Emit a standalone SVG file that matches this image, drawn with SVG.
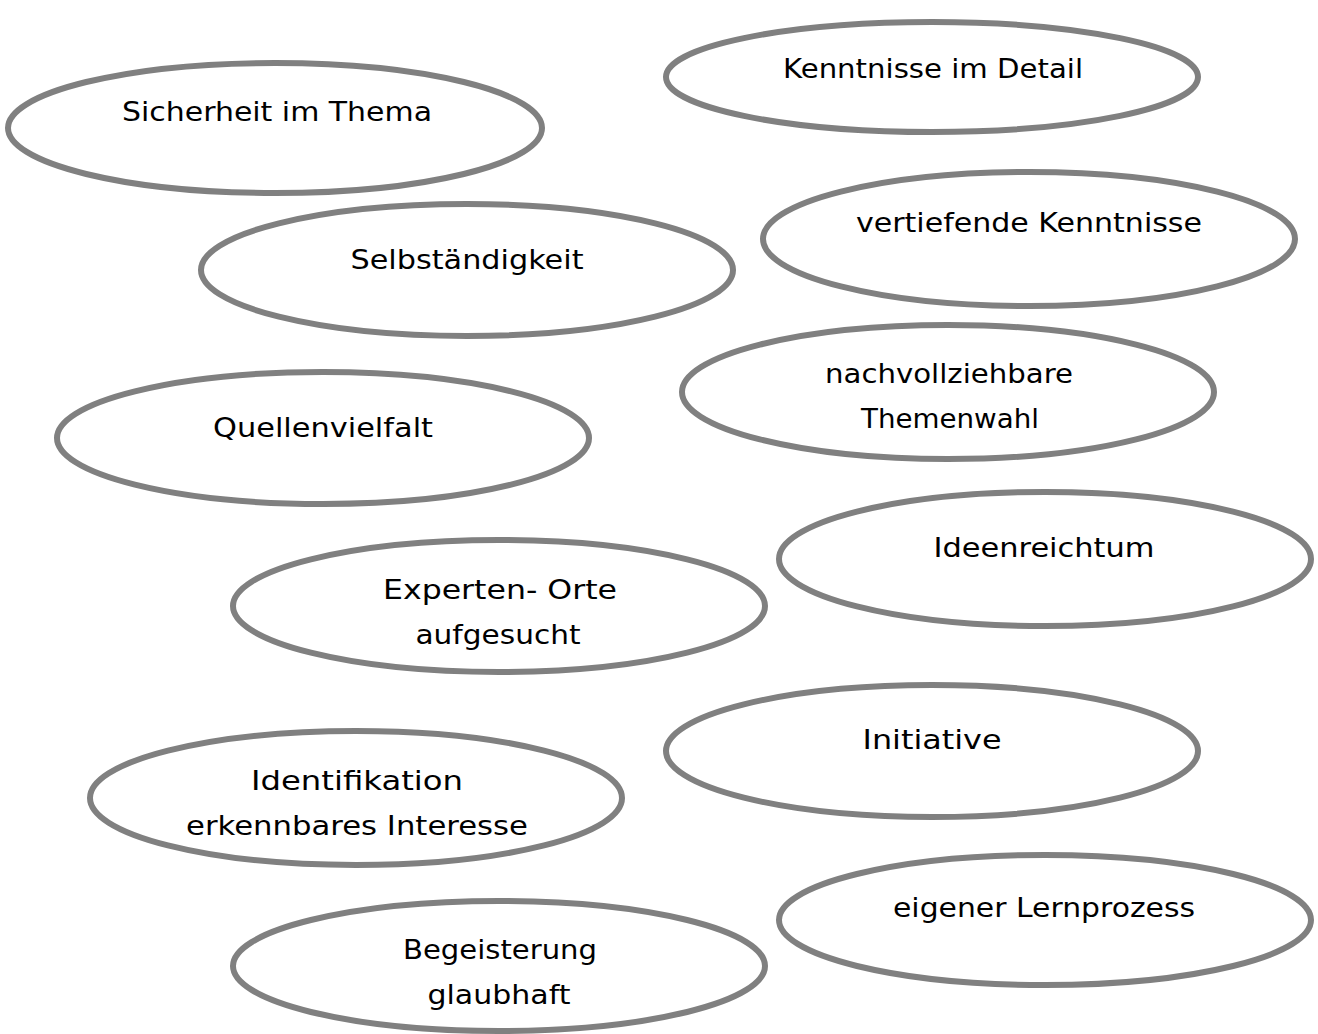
<svg xmlns="http://www.w3.org/2000/svg" width="1318" height="1034" viewBox="0 0 1318 1034">
<style>
.e{fill:#fff;stroke:#808080;stroke-width:6}
.t{font-family:"DejaVu Sans","Liberation Sans",sans-serif;font-size:26px;fill:#000;text-anchor:middle}
</style>
<rect width="1318" height="1034" fill="#fff"/>
<g id="connectors"/>
<g id="n1"><ellipse class="e" cx="275" cy="128" rx="267" ry="65"/><text class="t" x="277" y="121" textLength="310" lengthAdjust="spacingAndGlyphs">Sicherheit im Thema</text></g>
<g id="n2"><ellipse class="e" cx="932" cy="77" rx="266" ry="55"/><text class="t" x="933" y="78" textLength="300" lengthAdjust="spacingAndGlyphs">Kenntnisse im Detail</text></g>
<g id="n3"><ellipse class="e" cx="467" cy="270" rx="266" ry="66"/><text class="t" x="467" y="269" textLength="233" lengthAdjust="spacingAndGlyphs">Selbständigkeit</text></g>
<g id="n4"><ellipse class="e" cx="1029" cy="239" rx="266" ry="67"/><text class="t" x="1029" y="232" textLength="346" lengthAdjust="spacingAndGlyphs">vertiefende Kenntnisse</text></g>
<g id="n5"><ellipse class="e" cx="948" cy="392" rx="266" ry="67"/><text class="t" x="949" y="383" textLength="248" lengthAdjust="spacingAndGlyphs">nachvollziehbare</text><text class="t" x="950" y="428" textLength="178" lengthAdjust="spacingAndGlyphs">Themenwahl</text></g>
<g id="n6"><ellipse class="e" cx="323" cy="438" rx="266" ry="66"/><text class="t" x="323" y="437" textLength="220" lengthAdjust="spacingAndGlyphs">Quellenvielfalt</text></g>
<g id="n7"><ellipse class="e" cx="1045" cy="559" rx="266" ry="67"/><text class="t" x="1044" y="557" textLength="221" lengthAdjust="spacingAndGlyphs">Ideenreichtum</text></g>
<g id="n8"><ellipse class="e" cx="499" cy="606" rx="266" ry="66"/><text class="t" x="500" y="599" textLength="234" lengthAdjust="spacingAndGlyphs">Experten- Orte</text><text class="t" x="498" y="644" textLength="165" lengthAdjust="spacingAndGlyphs">aufgesucht</text></g>
<g id="n9"><ellipse class="e" cx="932" cy="751" rx="266" ry="66"/><text class="t" x="932" y="749" textLength="139" lengthAdjust="spacingAndGlyphs">Initiative</text></g>
<g id="n10"><ellipse class="e" cx="356" cy="798" rx="266" ry="67"/><text class="t" x="357" y="790" textLength="212" lengthAdjust="spacingAndGlyphs">Identifikation</text><text class="t" x="357" y="835" textLength="342" lengthAdjust="spacingAndGlyphs">erkennbares Interesse</text></g>
<g id="n11"><ellipse class="e" cx="1045" cy="920" rx="266" ry="65"/><text class="t" x="1044" y="917" textLength="302" lengthAdjust="spacingAndGlyphs">eigener Lernprozess</text></g>
<g id="n12"><ellipse class="e" cx="499" cy="966" rx="266" ry="65"/><text class="t" x="500" y="959" textLength="194" lengthAdjust="spacingAndGlyphs">Begeisterung</text><text class="t" x="499" y="1004" textLength="143" lengthAdjust="spacingAndGlyphs">glaubhaft</text></g>
</svg>
